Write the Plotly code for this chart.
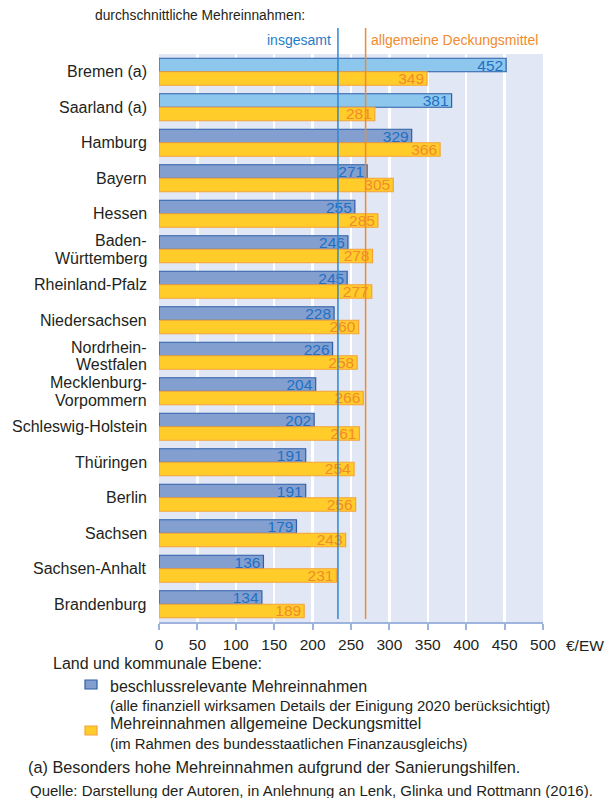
import plotly.graph_objects as go

categories = ["Bremen (a)", "Saarland (a)", "Hamburg", "Bayern", "Hessen",
              "Baden-<br>Württemberg", "Rheinland-Pfalz", "Niedersachsen",
              "Nordrhein-<br>Westfalen", "Mecklenburg-<br>Vorpommern",
              "Schleswig-Holstein", "Thüringen", "Berlin", "Sachsen",
              "Sachsen-Anhalt", "Brandenburg"]
beschluss = [452, 381, 329, 271, 255, 246, 245, 228, 226, 204, 202, 191, 191, 179, 136, 134]
deckung = [349, 281, 366, 305, 285, 278, 277, 260, 258, 266, 261, 254, 256, 243, 231, 189]
sanierung = [True, True] + [False] * 14
avg_insgesamt = 233
avg_deckung = 269
tick_vals = [0, 50, 100, 150, 200, 250, 300, 350, 400, 450, 500]

W, H = 608, 798
L, R, T, B = 159, 543, 54, 622
FONT = "Liberation Sans, Arial, sans-serif"
TXT = "#231f20"

def px(x):
    return (x - L) / (R - L)

def py(y):
    return (B - y) / (B - T)

blue_fill = ["#8dc7ee" if s else "#829fd0" for s in sanierung]

fig = go.Figure()
fig.add_trace(go.Bar(
    y=categories, x=beschluss, orientation="h",
    marker=dict(color=blue_fill, line=dict(color="#2e5fa8", width=1.2)),
    text=[str(v) for v in beschluss], textposition="inside",
    insidetextanchor="end", textangle=0,
    textfont=dict(color="#1f70c4", size=15.5, family=FONT),
    name="beschlussrelevante Mehreinnahmen", showlegend=False,
))
fig.add_trace(go.Bar(
    y=categories, x=deckung, orientation="h",
    marker=dict(color="#ffcc29", line=dict(color="#f5a23a", width=1.2)),
    text=[str(v) for v in deckung], textposition="inside",
    insidetextanchor="end", textangle=0,
    textfont=dict(color="#f28a2e", size=15.5, family=FONT),
    name="Mehreinnahmen allgemeine Deckungsmittel", showlegend=False,
))

shapes = [
    dict(type="line", xref="x", yref="paper", x0=avg_insgesamt, x1=avg_insgesamt,
         y0=py(619), y1=py(28), line=dict(color="#2a8ad4", width=1.5)),
    dict(type="line", xref="x", yref="paper", x0=avg_deckung, x1=avg_deckung,
         y0=py(619), y1=py(28), line=dict(color="#f28a2e", width=1.5)),
    dict(type="rect", xref="paper", yref="paper", x0=px(85), x1=px(97),
         y0=py(689), y1=py(680), fillcolor="#829fd0",
         line=dict(color="#2e5fa8", width=1.2)),
    dict(type="rect", xref="paper", yref="paper", x0=px(85), x1=px(97),
         y0=py(735), y1=py(726), fillcolor="#ffcc29",
         line=dict(color="#f5a23a", width=1.2)),
]

def ann(text, x, y, size=14, color=TXT, xanchor="left"):
    return dict(text=text, xref="paper", yref="paper", x=px(x), y=py(y),
                xanchor=xanchor, yanchor="middle", showarrow=False,
                font=dict(size=size, color=color, family=FONT))

annotations = [
    ann("durchschnittliche Mehreinnahmen:", 93, 16, 13.8),
    ann("insgesamt", 333, 40, 14, "#1f7cc8", "right"),
    ann("allgemeine Deckungsmittel", 369, 40, 14, "#f28a2e"),
    ann("€/EW", 564, 645, 15.5),
    ann("Land und kommunale Ebene:", 51, 663, 16),
    ann("beschlussrelevante Mehreinnahmen", 108, 686, 16),
    ann("(alle finanziell wirksamen Details der Einigung 2020 berücksichtigt)", 108, 706, 14.9),
    ann("Mehreinnahmen allgemeine Deckungsmittel", 108, 723, 16),
    ann("(im Rahmen des bundesstaatlichen Finanzausgleichs)", 108, 744, 14.9),
    ann("(a) Besonders hohe Mehreinnahmen aufgrund der Sanierungshilfen.", 26, 767, 16.3),
    ann("Quelle: Darstellung der Autoren, in Anlehnung an Lenk, Glinka und Rottmann (2016).", 28, 790, 15),
]

# category labels (drawn as annotations to control line spacing of wrapped names)
LINE = 17.5
for cat in categories:
    lines = cat.split("<br>")
    n = len(lines)
    for i, line in enumerate(lines):
        annotations.append(dict(
            text=line, xref="paper", yref="y", x=px(149), y=cat,
            xanchor="right", yanchor="middle", showarrow=False,
            yshift=((n - 1) / 2 - i) * LINE,
            font=dict(size=16, color=TXT, family=FONT)))

fig.update_layout(
    width=W, height=H,
    margin=dict(l=L, r=W - R, t=T, b=H - B, pad=0),
    paper_bgcolor="white", plot_bgcolor="#e1e7f5",
    barmode="group", bargap=0.24, bargroupgap=0,
    font=dict(family=FONT, color=TXT, size=14),
    uniformtext=dict(minsize=15, mode="show"),
    shapes=shapes, annotations=annotations,
    xaxis=dict(range=[0, 500], tickvals=tick_vals, showgrid=True,
               gridcolor="white", gridwidth=2.5, zeroline=False,
               showline=True, linecolor="#9fb3df", linewidth=2,
               ticks="outside", ticklen=6, tickcolor="#9fb3df", tickwidth=2,
               ticklabelstandoff=1,
               tickfont=dict(size=15.5, color=TXT, family=FONT), fixedrange=True),
    yaxis=dict(autorange=False, range=[len(categories) - 0.5, -0.5],
               showgrid=False, zeroline=False, showline=False, ticks="",
               showticklabels=False, fixedrange=True),
)

fig.write_html("out.html", config={"displayModeBar": False, "staticPlot": True},
               post_script="document.body.style.margin='0';document.body.style.overflow='hidden';")
